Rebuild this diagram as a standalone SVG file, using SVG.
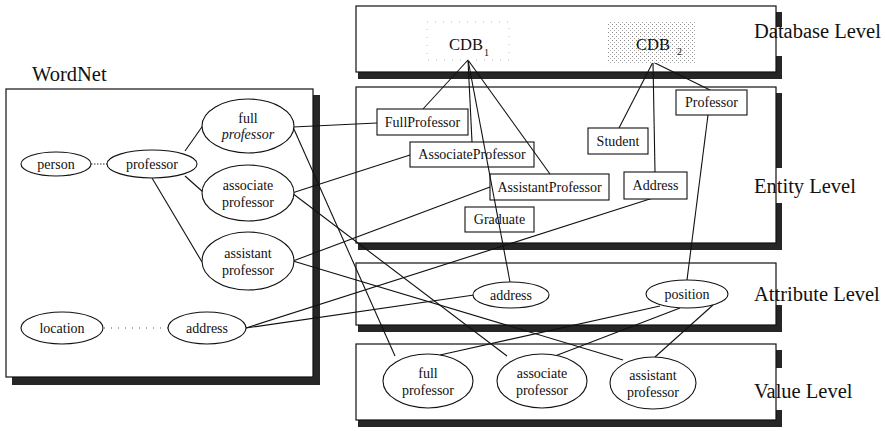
<svg xmlns="http://www.w3.org/2000/svg" width="885" height="431" viewBox="0 0 885 431" font-family="'Liberation Serif', 'Times New Roman', serif">
  <style>
    text { font-family: "Liberation Serif", "Times New Roman", serif; fill: #111; }
    .lbl { font-size: 20.5px; }
    .t { font-size: 14px; text-anchor: middle; }
    .cdb { font-size: 16.5px; }
    .sub { font-size: 10px; }
    .frame { fill: none; stroke: #111; stroke-width: 1.2; }
    .shadow { fill: #262626; }
    .node { fill: #fff; stroke: #111; stroke-width: 1.1; }
    .open { fill: none; stroke: #111; stroke-width: 1.1; }
    .edge { stroke: #111; stroke-width: 1.1; fill: none; }
    .dot { stroke: #333; stroke-width: 1.1; stroke-dasharray: 1.5 1.5; }
    .sparse { stroke: #555; stroke-width: 1.1; stroke-dasharray: 1 6; }
  </style>
  <defs>
    <pattern id="halftone" width="4" height="4" patternUnits="userSpaceOnUse">
      <rect width="4" height="4" fill="#fff"/>
      <rect x="0" y="0" width="1" height="1" fill="#888"/>
      <rect x="2" y="2" width="1" height="1" fill="#aaa"/>
    </pattern>
  </defs>

  <rect width="885" height="431" fill="#fff"/>

  <!-- WordNet panel -->
  <g id="wordnet-panel">
    <text class="lbl" x="32" y="81">WordNet</text>
    <rect class="shadow" x="313" y="95" width="7" height="290"/>
    <rect class="shadow" x="12" y="377" width="308" height="8"/>
    <rect class="frame" x="6" y="89" width="307" height="288"/>
  </g>

  <!-- level panels -->
  <g id="database-level">
    <rect class="shadow" x="358" y="72" width="424" height="7"/>
    <rect class="shadow" x="776" y="12" width="6" height="15"/>
    <rect class="shadow" x="776" y="56" width="6" height="23"/>
    <rect class="frame" x="356" y="6" width="420" height="66"/>
    <text class="lbl" x="754" y="38">Database Level</text>
  </g>
  <g id="entity-level">
    <rect class="shadow" x="358" y="243" width="424" height="7"/>
    <rect class="shadow" x="776" y="93" width="6" height="75"/>
    <rect class="shadow" x="776" y="203" width="6" height="47"/>
    <rect class="frame" x="356" y="87" width="420" height="156"/>
    <text class="lbl" x="754" y="193">Entity Level</text>
  </g>
  <g id="attribute-level">
    <rect class="shadow" x="358" y="325" width="424" height="7"/>
    <rect class="shadow" x="776" y="305" width="6" height="27"/>
    <rect class="frame" x="356" y="263" width="420" height="62"/>
    <text class="lbl" x="754" y="301">Attribute Level</text>
  </g>
  <g id="value-level">
    <rect class="shadow" x="358" y="420" width="424" height="7"/>
    <rect class="shadow" x="776" y="350" width="6" height="18"/>
    <rect class="shadow" x="776" y="410" width="6" height="17"/>
    <rect class="frame" x="356" y="344" width="420" height="76"/>
    <text class="lbl" x="754" y="398">Value Level</text>
  </g>

  <!-- connectors -->
  <g id="connectors">
    <line class="dot" x1="91" y1="164" x2="107" y2="164"/>
    <line class="sparse" x1="104" y1="328" x2="168" y2="328"/>
    <line class="edge" x1="185" y1="151" x2="204" y2="124"/>
    <line class="edge" x1="185" y1="176" x2="203" y2="192"/>
    <line class="edge" x1="152" y1="178" x2="202" y2="262"/>
    <line class="edge" x1="293" y1="127" x2="377" y2="123"/>
    <line class="edge" x1="293" y1="127" x2="395" y2="356"/>
    <line class="edge" x1="292" y1="193" x2="410" y2="155"/>
    <line class="edge" x1="292" y1="193" x2="507" y2="356"/>
    <line class="edge" x1="293" y1="261" x2="490" y2="187"/>
    <line class="edge" x1="293" y1="261" x2="623" y2="360"/>
    <line class="edge" x1="246" y1="328" x2="474" y2="295"/>
    <line class="edge" x1="246" y1="328" x2="653" y2="198"/>
    <line class="edge" x1="468" y1="60" x2="423" y2="109"/>
    <line class="edge" x1="468" y1="60" x2="472" y2="142"/>
    <line class="edge" x1="468" y1="60" x2="510" y2="282"/>
    <line class="edge" x1="468" y1="60" x2="550" y2="174"/>
    <line class="edge" x1="653" y1="62" x2="619" y2="128"/>
    <line class="edge" x1="653" y1="62" x2="655" y2="172"/>
    <line class="edge" x1="653" y1="62" x2="710" y2="90"/>
    <line class="edge" x1="708" y1="115" x2="687" y2="280"/>
    <line class="edge" x1="660" y1="306" x2="440" y2="355"/>
    <line class="edge" x1="680" y1="308" x2="555" y2="356"/>
    <line class="edge" x1="713" y1="305" x2="655" y2="357"/>
  </g>

  <!-- WordNet nodes -->
  <g id="wn-person">
    <ellipse class="node" cx="56" cy="164" rx="35" ry="12"/>
    <text class="t" x="56" y="168.5">person</text>
  </g>
  <g id="wn-professor">
    <ellipse class="node" cx="152" cy="164" rx="45" ry="14"/>
    <text class="t" x="152" y="168.5">professor</text>
  </g>
  <g id="wn-full-professor">
    <ellipse class="node" cx="248" cy="126" rx="46" ry="27"/>
    <text class="t" x="248" y="123">full</text>
    <text class="t" x="248" y="138.5" font-style="italic">professor</text>
  </g>
  <g id="wn-associate-professor">
    <ellipse class="node" cx="248" cy="193" rx="46" ry="28"/>
    <text class="t" x="248" y="190">associate</text>
    <text class="t" x="248" y="206.5">professor</text>
  </g>
  <g id="wn-assistant-professor">
    <ellipse class="node" cx="248" cy="261" rx="46" ry="29"/>
    <text class="t" x="248" y="258">assistant</text>
    <text class="t" x="248" y="274.5">professor</text>
  </g>
  <g id="wn-location">
    <ellipse class="node" cx="62" cy="328" rx="41" ry="16"/>
    <text class="t" x="62" y="332.5">location</text>
  </g>
  <g id="wn-address">
    <ellipse class="node" cx="207" cy="328" rx="39" ry="16"/>
    <text class="t" x="207" y="332.5">address</text>
  </g>

  <!-- database nodes -->
  <g id="db-cdb1">
    <rect x="427" y="22" width="82" height="38" fill="none" stroke="#bbb" stroke-width="1" stroke-dasharray="1 7"/>
    <text class="cdb" x="449" y="50">CDB</text>
    <text class="sub" x="484" y="56">1</text>
  </g>
  <g id="db-cdb2">
    <rect x="608" y="22" width="87" height="41" fill="url(#halftone)"/>
    <text class="cdb" x="636" y="50">CDB</text>
    <text class="sub" x="677" y="55">2</text>
  </g>

  <!-- entity nodes -->
  <g id="e-fullprofessor">
    <rect class="node" x="377" y="109" width="91" height="26"/>
    <text class="t" x="422.5" y="127">FullProfessor</text>
  </g>
  <g id="e-associateprofessor">
    <rect class="open" x="410" y="142" width="124" height="25"/>
    <text class="t" x="472" y="159">AssociateProfessor</text>
  </g>
  <g id="e-assistantprofessor">
    <rect class="open" x="490" y="174" width="119" height="26"/>
    <text class="t" x="549.5" y="192">AssistantProfessor</text>
  </g>
  <g id="e-graduate">
    <rect class="open" x="465" y="207" width="69" height="25"/>
    <text class="t" x="499.5" y="224">Graduate</text>
  </g>
  <g id="e-student">
    <rect class="node" x="588" y="128" width="60" height="26"/>
    <text class="t" x="618" y="146">Student</text>
  </g>
  <g id="e-address">
    <rect class="node" x="624" y="172" width="63" height="27"/>
    <text class="t" x="655.5" y="190">Address</text>
  </g>
  <g id="e-professor">
    <rect class="node" x="676" y="90" width="71" height="25"/>
    <text class="t" x="711.5" y="107">Professor</text>
  </g>

  <!-- attribute nodes -->
  <g id="a-address">
    <ellipse class="node" cx="511" cy="295" rx="38" ry="13"/>
    <text class="t" x="511" y="299.5">address</text>
  </g>
  <g id="a-position">
    <ellipse class="node" cx="687" cy="294" rx="41" ry="14"/>
    <text class="t" x="687" y="298.5">position</text>
  </g>

  <!-- value nodes -->
  <g id="v-full-professor">
    <ellipse class="node" cx="428" cy="381" rx="45" ry="27"/>
    <text class="t" x="428" y="378">full</text>
    <text class="t" x="428" y="394.5">professor</text>
  </g>
  <g id="v-associate-professor">
    <ellipse class="node" cx="542" cy="381" rx="45" ry="27"/>
    <text class="t" x="542" y="378">associate</text>
    <text class="t" x="542" y="394.5">professor</text>
  </g>
  <g id="v-assistant-professor">
    <ellipse class="node" cx="653" cy="383" rx="43" ry="26"/>
    <text class="t" x="653" y="380">assistant</text>
    <text class="t" x="653" y="396.5">professor</text>
  </g>
</svg>
